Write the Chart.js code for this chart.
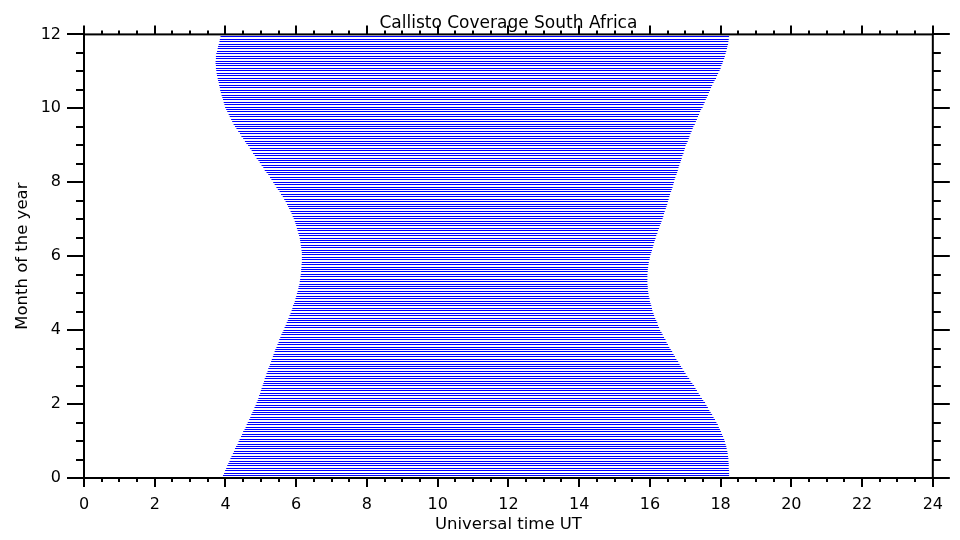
<!DOCTYPE html>
<html>
<head>
<meta charset="utf-8">
<title>Callisto Coverage South Africa</title>
<script src="https://cdn.jsdelivr.net/npm/chart.js@4.4.1/dist/chart.umd.min.js"></script>
<style>
  body { margin: 0; background: #ffffff; }
  canvas { display: block; background: #ffffff; }
</style>
</head>
<body>
<canvas id="coverageChart" width="960" height="540"></canvas>
<script>
// Observation days (every second day of the year), one line per day
const dayOfYear = [
    2, 4, 6, 8, 10, 12, 14, 16, 18, 20, 22, 24, 26, 28, 30, 32, 34, 36, 38, 40,
    42, 44, 46, 48, 50, 52, 54, 56, 58, 60, 62, 64, 66, 68, 70, 72, 74, 76, 78, 80,
    82, 84, 86, 88, 90, 92, 94, 96, 98, 100, 102, 104, 106, 108, 110, 112, 114, 116, 118, 120,
    122, 124, 126, 128, 130, 132, 134, 136, 138, 140, 142, 144, 146, 148, 150, 152, 154, 156, 158, 160,
    162, 164, 166, 168, 170, 172, 174, 176, 178, 180, 182, 184, 186, 188, 190, 192, 194, 196, 198, 200,
    202, 204, 206, 208, 210, 212, 214, 216, 218, 220, 222, 224, 226, 228, 230, 232, 234, 236, 238, 240,
    242, 244, 246, 248, 250, 252, 254, 256, 258, 260, 262, 264, 266, 268, 270, 272, 274, 276, 278, 280,
    282, 284, 286, 288, 290, 292, 294, 296, 298, 300, 302, 304, 306, 308, 310, 312, 314, 316, 318, 320,
    322, 324, 326, 328, 330, 332, 334, 336, 338, 340, 342, 344, 346, 348, 350, 352, 354, 356, 358, 360,
    362, 364
]

// Start of coverage (sunrise) in UT hours
const sunriseUT = [
    3.93, 3.96, 3.99, 4.02, 4.05, 4.08, 4.11,
    4.14, 4.17, 4.21, 4.24, 4.27, 4.30, 4.34, 4.37,
    4.40, 4.44, 4.47, 4.50, 4.54, 4.57, 4.60,
    4.63, 4.67, 4.70, 4.73, 4.76, 4.79, 4.82, 4.85,
    4.88, 4.91, 4.93, 4.95, 4.98, 5.00, 5.02, 5.05,
    5.07, 5.09, 5.11, 5.14, 5.16, 5.19, 5.21,
    5.24, 5.26, 5.29, 5.31, 5.34, 5.36, 5.39, 5.41,
    5.44, 5.47, 5.50, 5.52, 5.55, 5.58, 5.61, 5.64,
    5.67, 5.70, 5.73, 5.76, 5.78, 5.81, 5.84,
    5.87, 5.89, 5.91, 5.94, 5.96, 5.98, 6.00, 6.02,
    6.04, 6.06, 6.07, 6.09, 6.10, 6.11, 6.12,
    6.13, 6.14, 6.14, 6.15, 6.15, 6.16, 6.16, 6.16,
    6.16, 6.16, 6.15, 6.14, 6.13, 6.12, 6.11, 6.10,
    6.08, 6.06, 6.04, 6.02, 6.00, 5.98, 5.96,
    5.93, 5.90, 5.87, 5.84, 5.80, 5.77, 5.74, 5.70,
    5.66, 5.62, 5.57, 5.53, 5.48, 5.44, 5.39, 5.35,
    5.30, 5.26, 5.21, 5.16, 5.11, 5.07, 5.02,
    4.97, 4.93, 4.88, 4.83, 4.78, 4.74, 4.69, 4.64,
    4.59, 4.55, 4.50, 4.45, 4.41, 4.36, 4.31,
    4.27, 4.23, 4.19, 4.16, 4.12, 4.09, 4.05, 4.02,
    3.99, 3.97, 3.95, 3.93, 3.91, 3.89, 3.87, 3.85,
    3.84, 3.82, 3.81, 3.79, 3.78, 3.76, 3.75,
    3.74, 3.73, 3.73, 3.72, 3.72, 3.73, 3.73, 3.74,
    3.76, 3.78, 3.79, 3.81, 3.83, 3.84, 3.86
]

// End of coverage (sunset) in UT hours
const sunsetUT = [
    18.24, 18.24, 18.24, 18.23, 18.23, 18.23, 18.22,
    18.22, 18.21, 18.20, 18.19, 18.17, 18.16, 18.14, 18.12,
    18.10, 18.07, 18.04, 18.01, 17.98, 17.95, 17.92,
    17.88, 17.84, 17.80, 17.76, 17.72, 17.68, 17.64, 17.60,
    17.56, 17.51, 17.47, 17.42, 17.38, 17.33, 17.29, 17.25,
    17.20, 17.15, 17.11, 17.06, 17.01, 16.97, 16.92,
    16.88, 16.84, 16.80, 16.75, 16.71, 16.67, 16.63, 16.59,
    16.55, 16.51, 16.47, 16.44, 16.40, 16.36, 16.33, 16.29,
    16.26, 16.23, 16.21, 16.18, 16.15, 16.12, 16.10,
    16.07, 16.06, 16.04, 16.02, 16.00, 15.99, 15.97, 15.96,
    15.95, 15.94, 15.94, 15.93, 15.93, 15.93, 15.93,
    15.93, 15.94, 15.94, 15.95, 15.96, 15.97, 15.99, 16.00,
    16.02, 16.04, 16.06, 16.08, 16.10, 16.12, 16.14, 16.16,
    16.18, 16.21, 16.23, 16.26, 16.28, 16.31, 16.33,
    16.36, 16.38, 16.40, 16.42, 16.45, 16.47, 16.49, 16.51,
    16.53, 16.55, 16.57, 16.60, 16.62, 16.64, 16.66, 16.68,
    16.70, 16.72, 16.75, 16.77, 16.79, 16.81, 16.83,
    16.86, 16.88, 16.90, 16.92, 16.95, 16.97, 16.99, 17.01,
    17.04, 17.07, 17.10, 17.12, 17.15, 17.18, 17.21,
    17.23, 17.27, 17.30, 17.33, 17.36, 17.39, 17.42, 17.45,
    17.49, 17.52, 17.55, 17.58, 17.61, 17.64, 17.67, 17.70,
    17.73, 17.76, 17.80, 17.83, 17.87, 17.90, 17.93,
    17.97, 18.00, 18.02, 18.05, 18.07, 18.10, 18.12, 18.14,
    18.16, 18.18, 18.19, 18.21, 18.22, 18.23, 18.24
]

const daysPerMonth = 30.5

if (sunriseUT.length !== dayOfYear.length || sunsetUT.length !== dayOfYear.length) {
    console.warn("Length mismatch", dayOfYear.length, sunriseUT.length, sunsetUT.length)
}

// Snap each 1px line onto whole pixel rows so the lines stay crisp
const crispLines = {
    id: 'crispLines',
    afterDatasetsUpdate(chart) {
        let meta = chart.getDatasetMeta(0)
        meta.data.forEach(function(bar){
            bar.y = Math.round(bar.y - 0.5) + 0.5
        })
    }
}

// IDL style box with major and minor ticks on all four sides
const axisFrame = {
    id: 'axisFrame',
    afterDraw(chart) {
        const {ctx, chartArea, scales} = chart
        const a = chartArea
        ctx.save()
        ctx.strokeStyle = '#000000'
        ctx.lineWidth = 2
        ctx.strokeRect(a.left, a.top, a.right - a.left, a.bottom - a.top)

        ctx.beginPath()
        // x ticks every half hour, major every 2 h
        for (let v = 0; v <= 24; v += 0.5) {
            let px = Math.round(scales.x.getPixelForValue(v))
            let len = (v % 2 === 0) ? 9 : 4
            ctx.moveTo(px, a.bottom)
            ctx.lineTo(px, a.bottom + len)
            ctx.moveTo(px, a.top)
            ctx.lineTo(px, a.top - len)
        }
        // y ticks every half month, major every 2 months
        for (let v = 0; v <= 12; v += 0.5) {
            let py = Math.round(scales.y.getPixelForValue(v))
            let len = (v % 2 === 0) ? 17 : 8
            ctx.moveTo(a.left, py)
            ctx.lineTo(a.left - len, py)
            ctx.moveTo(a.right, py)
            ctx.lineTo(a.right + len, py)
        }
        ctx.stroke()
        ctx.restore()
    }
}

function buildCoverageChart(){

    let points = []
    for (let i=0; i<dayOfYear.length; i++){
        points.push({ y: dayOfYear[i] / daysPerMonth, x: [sunriseUT[i], sunsetUT[i]] })
    }

    Chart.defaults.font.family = "'DejaVu Sans', sans-serif"
    Chart.defaults.color = '#000000'

    const config = {
        type: 'bar',
        data: {
            datasets: [{
                label: 'Coverage',
                data: points,
                backgroundColor: '#0000ff',
                borderWidth: 0,
                barThickness: 1,
                inflateAmount: 0
            }]
        },
        options: {
            indexAxis: 'y',
            responsive: false,
            animation: false,
            layout: { padding: { left: 0, right: 26, top: 0, bottom: 0 } },
            plugins: {
                legend: { display: false },
                tooltip: { enabled: false },
                title: {
                    display: true,
                    fullSize: false,
                    text: 'Callisto Coverage South Africa',
                    color: '#000000',
                    font: { size: 17, weight: 'normal' },
                    padding: { top: 13, bottom: 1 }
                }
            },
            scales: {
                x: {
                    type: 'linear',
                    min: 0,
                    max: 24,
                    grid: { display: false, drawTicks: false },
                    border: { display: false },
                    ticks: { stepSize: 2, autoSkip: false, maxRotation: 0, padding: 17, font: { size: 16 } },
                    title: { display: true, text: 'Universal time UT', font: { size: 16.5 }, padding: { top: 0, bottom: 5 } },
                    afterFit: function(scale){ scale.height = 62 }
                },
                y: {
                    type: 'linear',
                    min: 0,
                    max: 12,
                    offset: false,
                    grid: { display: false, drawTicks: false, offset: false },
                    border: { display: false },
                    ticks: { stepSize: 2, autoSkip: false, padding: 23, font: { size: 16 } },
                    title: { display: true, text: 'Month of the year', font: { size: 16.5 }, padding: { top: 13, bottom: 0 } },
                    afterFit: function(scale){ scale.width = 84 }
                }
            }
        },
        plugins: [crispLines, axisFrame]
    }

    new Chart(document.getElementById('coverageChart'), config)
}

// Main
document.addEventListener("DOMContentLoaded", function(){
    buildCoverageChart()
})
</script>
</body>
</html>
